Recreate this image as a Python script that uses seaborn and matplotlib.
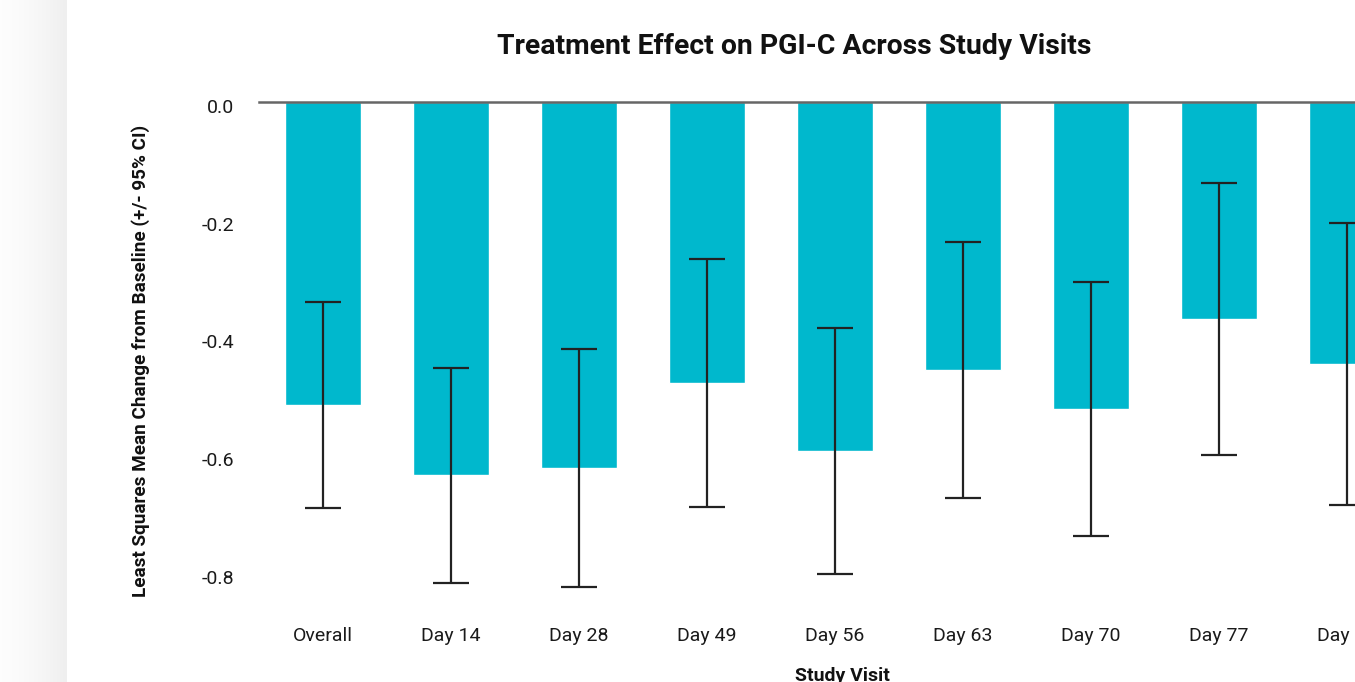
import numpy as np
import pandas as pd
import matplotlib
matplotlib.use("Agg")
import matplotlib.pyplot as plt
import matplotlib.transforms as mtransforms
import seaborn as sns

# ---- data ----
visits = ["Overall", "Day 14", "Day 28", "Day 49", "Day 56", "Day 63", "Day 70", "Day 77", "Day 84"]
ls_mean = [-0.515, -0.634, -0.621, -0.477, -0.593, -0.455, -0.521, -0.369, -0.445]
ci_lower = [-0.690, -0.817, -0.824, -0.688, -0.802, -0.673, -0.737, -0.600, -0.685]
ci_upper = [-0.340, -0.452, -0.420, -0.267, -0.384, -0.238, -0.306, -0.138, -0.206]
yticks = [0.0, -0.2, -0.4, -0.6, -0.8]

df = pd.DataFrame({"visit": visits, "mean": ls_mean, "lo": ci_lower, "hi": ci_upper})

sns.set_theme(style="white")
plt.rcParams["font.family"] = ["Roboto", "DejaVu Sans"]

W, H = 1355, 682
fig = plt.figure(figsize=(W / 100, H / 100), dpi=100)
fig.patch.set_facecolor("white")

# left page shadow
sh = fig.add_axes([0, 0, 67 / W, 1])
grad = np.linspace(0, 1, 67)[None, :] ** 1.5
sh.imshow(grad, aspect="auto", cmap=matplotlib.colors.LinearSegmentedColormap.from_list("g", ["#fdfdfd", "#efefef"]),
          extent=[0, 1, 0, 1], vmin=0, vmax=1)
sh.set_axis_off()

left_px, right_px, top_px, bot_px = 259, 1411, 102, 620
ax = fig.add_axes([left_px / W, 1 - bot_px / H, (right_px - left_px) / W, (bot_px - top_px) / H])

sns.barplot(data=df, x="visit", y="mean", color="#00B8CD", width=0.6, errorbar=None,
            saturation=1, ax=ax, zorder=2)
pos = np.arange(len(df))
ax.errorbar(pos, df["mean"], yerr=[df["mean"] - df["lo"], df["hi"] - df["mean"]],
            fmt="none", ecolor="#222222", elinewidth=1.6, capsize=13, capthick=1.6, zorder=3)

ax.set_ylim(-0.88, 0.0)
ax.set_xlim(-0.5, len(df) - 0.5)
ax.set_yticks(yticks)
ax.set_yticklabels([f"{v:.1f}" for v in yticks], fontsize=14, color="#1a1a1a")
ax.tick_params(axis="x", labelsize=14, labelcolor="#1a1a1a", length=0, pad=5)
ax.tick_params(axis="y", length=0, pad=18)
offset = mtransforms.ScaledTranslation(0, -4 / 100, fig.dpi_scale_trans)
for lbl in ax.get_yticklabels():
    lbl.set_transform(lbl.get_transform() + offset)
for s in ["left", "right", "bottom"]:
    ax.spines[s].set_visible(False)
ax.spines["top"].set_visible(True)
ax.spines["top"].set_color("#666666")
ax.spines["top"].set_linewidth(1.8)

ax.set_ylabel("Least Squares Mean Change from Baseline (+/- 95% CI)", fontsize=13.6,
              fontweight="bold", labelpad=37, color="#111111")
ax.set_xlabel("Study Visit", fontsize=14, fontweight="bold", labelpad=18, color="#111111")
ax.xaxis.set_label_coords((842 - left_px) / (right_px - left_px), -(676 - bot_px) / (bot_px - top_px))
ax.xaxis.label.set_va("center")
fig.text(794 / W, 1 - 46 / H, "Treatment Effect on PGI-C Across Study Visits",
         ha="center", va="center", fontsize=20.4, fontweight="bold", color="#111111")

fig.savefig("out.png", dpi=100, facecolor="white")
